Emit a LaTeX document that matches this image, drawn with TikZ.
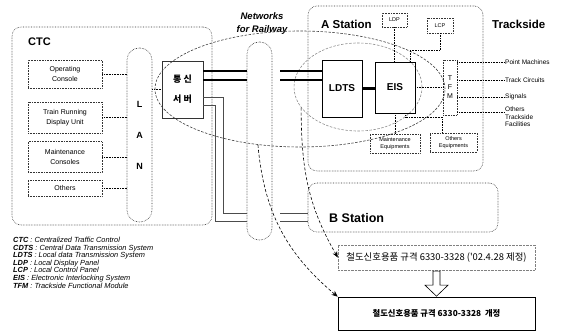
\documentclass[tikz,border=0pt]{standalone}
\usepackage{fontspec}
\setmainfont{Liberation Sans}
\newfontfamily\krfont{Noto Sans CJK KR}
\usetikzlibrary{arrows.meta, positioning, calc, shapes.geometric}

\begin{document}
\begin{tikzpicture}[
      x=1pt, y=-1pt,
      node distance=7pt,
      unit/.style={rectangle, draw=black!80, densely dotted, semithick,
        minimum width=74pt, align=center,
        font=\fontsize{7}{9.5}\selectfont, inner sep=1pt},
      core/.style={rectangle, draw, thick, align=center,
        font=\bfseries\fontsize{10}{12}\selectfont, inner sep=1pt},
      small/.style={rectangle, draw=black!80, densely dotted, semithick,
        align=center, font=\fontsize{5.5}{7}\selectfont, inner sep=1pt},
      site/.style={rectangle, rounded corners=9pt, draw=black!80,
        densely dotted, semithick, inner sep=0pt},
      pill/.style={rectangle, rounded corners=12pt, draw=black!80,
        densely dotted, semithick, inner sep=0pt, align=center},
      zone/.style={ellipse, draw=black!75, dash pattern=on 2.5pt off 1.5pt,
        semithick, inner sep=0pt},
      title/.style={font=\bfseries\fontsize{11.5}{13}\selectfont, anchor=west,
        inner sep=0pt},
      tag/.style={font=\fontsize{6.5}{7.5}\selectfont, anchor=west, align=left,
        inner sep=1pt},
      spec/.style={rectangle, minimum width=197pt, align=center,
        font=\krfont\fontsize{9.4}{10}\selectfont},
      link/.style={densely dotted, semithick},
      wire/.style={draw=black!70, semithick},
      trunk/.style={line width=2.6pt},
      ref/.style={-{Stealth[length=6pt, width=5pt]}, densely dashed, semithick},
      hollow/.style={draw, semithick, fill=white, line join=miter}
    ]
    \useasboundingbox (0,0) rectangle (563,331);

    % ---- CTC side ----
    \node[site, minimum width=200pt, minimum height=198pt] (ctc) at (112,126) {};
    \node[title, font=\bfseries\fontsize{11}{13}\selectfont] (ctct) at (28,42) {CTC};
    \node[unit, minimum height=28pt] (opcon) at (65,74) {Operating\\Console};
    \node[unit, minimum height=31pt] (trdu)  at (65,117.5) {Train Running\\Display Unit};
    \node[unit, minimum height=31pt, below=8pt of trdu] (mcon) {Maintenance\\Consoles};
    \node[unit, minimum height=16pt, below=of mcon]     (othr) {Others};
    \node[pill, minimum width=25pt, minimum height=174pt,
          font=\bfseries\fontsize{9}{11}\selectfont] (lan) at (139.5,135)
      {L\\[20pt]A\\[20pt]N};
    \node[core, draw=black!80, semithick, minimum width=41pt, minimum height=57pt,
          font=\krfont\bfseries\fontsize{9}{11}\selectfont] (comm) at (182.5,89.5)
      {통 신\\[9pt]서 버};

    \foreach \b in {opcon,trdu,mcon,othr}
      \draw[link] (\b.east) -- (\b.east -| lan.west);
    \draw[link] (lan.east |- comm) -- (comm.west);

    % ---- railway network ----
    \node[pill, minimum width=25pt, minimum height=198pt] (netw) at (259.5,141) {};
    \node[font=\bfseries\itshape\fontsize{9.5}{12}\selectfont, align=center]
      (netl) at (262,24) {Networks\\[1pt]for Railway};
    \coordinate (nr) at ([xshift=8pt]netw.east);

    % ---- stations ----
    \node[site, minimum width=175pt, minimum height=165pt] (asta) at (395.5,88.5) {};
    \node[title] (astat) at (321,24) {A Station};
    \node[title] (tside) at (492,24) {Trackside};
    \node[site, minimum width=190pt, minimum height=49pt] (bsta) at (403,207.5) {};
    \node[title, font=\bfseries\fontsize{12.5}{14}\selectfont] (bstat) at (329,218) {B Station};

    \node[zone, minimum width=290pt, minimum height=116pt] (net)  at (300,89) {};
    \node[zone, draw=black!45, minimum width=128pt, minimum height=88pt] (alan) at (358,87) {};

    \node[small, minimum width=25pt, minimum height=14pt] (ldp) at (394.5,20) {LDP};
    \node[small, minimum width=26pt, minimum height=15pt] (lcp) at (440,25.5) {LCP};
    \node[core, minimum width=40pt, minimum height=57pt] (ldts) at (342,88.5) {LDTS};
    \node[core, minimum width=40pt, minimum height=51pt] (eis)  at (395,87.5) {EIS};
    \node[small, minimum width=14pt, minimum height=55pt,
          font=\fontsize{7}{9}\selectfont] (tfm) at (450,87.5) {T\\F\\M};
    \node[small, minimum width=50pt, minimum height=19pt] (meq) at (395,143.5)
      {Maintenance\\Equipments};
    \node[small, minimum width=47pt, minimum height=19pt] (oeq) at (453.5,142.5)
      {Others\\Equipments};

    \node[tag] (pm)  at (504,62)  {Point Machines};
    \node[tag] (tc)  at (504,80)  {Track Circuits};
    \node[tag] (sig) at (504,97)  {Signals};
    \node[tag] (oth) at (504,117) {Others\\Trackside\\Facilities};

    % double trunk: server -> network -> LDTS
    \coordinate (t1) at ([yshift=18.5pt]comm.east);
    \coordinate (t2) at ([yshift=9.5pt]comm.east);
    \foreach \t in {t1,t2} {
      \draw[trunk] (\t) -- (netw.west |- \t);
      \draw[trunk] (nr |- \t) -- (ldts.west |- \t);
    }
    \draw[trunk] (ldts.east) -- (ldts.east -| eis.west);

    % server -> B station
    \coordinate (b1) at ([yshift=-5.5pt]bsta.west);
    \coordinate (b2) at ([yshift=-13.5pt]bsta.west);
    \draw[wire] ([yshift=-7.5pt]comm.east) -- ++(20,0) |- (netw.west |- b1);
    \draw[wire] ([yshift=-15.5pt]comm.east) -- ++(12,0) |- (netw.west |- b2);
    \draw[wire] (nr |- b1) -- (b1);
    \draw[wire] (nr |- b2) -- (b2);

    % inside A station
    \draw[link] (ldp.south) -- (ldp.south |- eis.north);
    \draw[link] (lcp.south) -- ++(0,17) -| ([xshift=15pt]eis.north);
    \draw[link] (eis.east) -- (eis.east -| tfm.west);
    \draw[link] (eis.south) -- (meq.north);
    \draw[link] ([xshift=10pt]eis.south) -- ++(0,4) -| ([xshift=-11pt]oeq.north);
    \foreach \n in {pm,tc,sig}
      \draw[link] (tfm.east |- \n.west) -- (\n.west);
    \coordinate (o1) at ([yshift=3pt]tfm.south east);
    \draw[link] (o1) -- (o1 -| oth.west);

    % ---- standards ----
    \node[spec, draw=black!50, densely dotted, minimum height=25pt] (spec1) at (436.5,257.5)
      {철도신호용품 규격 6330-3328 ('02.4.28 제정)};
    \node[spec, draw, semithick, minimum height=33pt, font=\krfont\bfseries\fontsize{8.3}{9}\selectfont]
      (spec2) at (436.5,313.5) {철도신호용품 규격 6330-3328 \ 개정};
    \draw[hollow] ($(spec1.south)+(-3.5,1)$) -- ++(0,14) -- ++(-8,0) -- ++(11.5,11)
      -- ++(11.5,-11) -- ++(-8,0) -- ++(0,-14) -- cycle;

    \draw[ref] (net.233)  to[out=-85, in=140] (spec2.north west);
    \draw[ref] (alan.200) to[out=-90, in=120] (spec1.west);

    % ---- legend ----
    \node[anchor=north west, align=left, inner sep=0pt,
          font=\itshape\fontsize{7.4}{7.6}\selectfont] (key) at (13,237)
      {\textbf{CTC} : Centralized Traffic Control\\
       \textbf{CDTS} : Central Data Transmission System\\
       \textbf{LDTS} : Local data Transmission System\\
       \textbf{LDP} : Local Display Panel\\
       \textbf{LCP} : Local Control Panel\\
       \textbf{EIS} : Electronic Interlocking System\\
       \textbf{TFM} : Trackside Functional Module};
  \end{tikzpicture}
\end{document}
